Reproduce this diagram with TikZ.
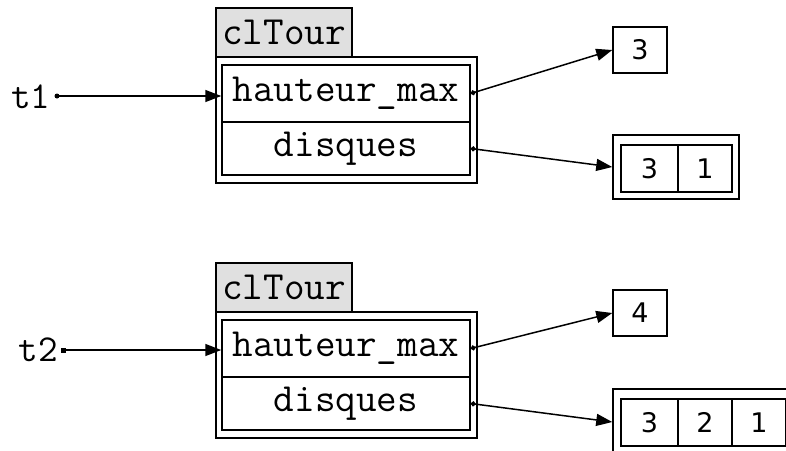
\documentclass[tikz,border=0pt]{standalone}
\usepackage{fontspec}
\newfontfamily\numf{DejaVu Sans}
\usetikzlibrary{arrows.meta}
\begin{document}
\begin{tikzpicture}[x=1pt,y=-1pt,line width=1.5pt,
  lbl/.style={draw,rectangle,inner sep=0pt,fill=black!12,minimum width=136pt,minimum height=49pt,font=\ttfamily\fontsize{40}{40}\selectfont},
  outer/.style={draw,rectangle,inner sep=0pt},
  field/.style={draw,rectangle,inner sep=0pt,minimum width=248pt,font=\ttfamily\fontsize{40}{40}\selectfont},
  var/.style={inner sep=0pt,font=\ttfamily\fontsize{38}{38}\selectfont},
  num/.style={draw,rectangle,inner sep=0pt,minimum width=54pt,minimum height=46pt,font=\numf\fontsize{27}{27}\selectfont},
  cell/.style={draw,rectangle,inner sep=0pt,minimum height=47pt,font=\numf\fontsize{27}{27}\selectfont},
  tip/.style={-{Triangle[length=16pt,width=12pt]}},
  ptr/.style={{Circle[length=5pt]}-{Triangle[length=16pt,width=12pt]},line width=1.5pt},
  dotc/.style={circle,fill,inner sep=0pt,minimum size=5pt}]
\useasboundingbox (0,0) rectangle (786,450);
\clip (0,0) rectangle (786,450);
\fill[white] (0,0) rectangle (786,450);
% ---------- top ----------
\node[lbl] (lab1) at (284,32.5) {clTour};
\node[outer,minimum width=261pt,minimum height=126pt] (out1) at (346.5,120) {};
\node[field,minimum height=57pt] (hm1) at (346,93.5) {hauteur\_max};
\node[field,minimum height=53pt] (dq1) at (346,148.5) {disques};
\node[var] (t1) at (31,97) {t1};
\node[dotc] (d1) at (57,96) {};
\draw[tip] (d1.center) -- (hm1.west |- d1.center);
\node[num] (n3) at (640,50) {3};
\node[outer,minimum width=126pt,minimum height=64pt] (l1) at (676,167) {};
\node[cell,minimum width=57pt] (l1a) at (649.5,168.5) {3};
\node[cell,minimum width=54pt] (l1b) at (705,168.5) {1};
\draw[ptr] (hm1.east) -- (n3.west);
\draw[ptr] (dq1.east) -- (l1.west);
% ---------- bottom ----------
\node[lbl] (lab2) at (284,287.5) {clTour};
\node[outer,minimum width=261pt,minimum height=126pt] (out2) at (346.5,375) {};
\node[field,minimum height=57pt] (hm2) at (346,348.5) {hauteur\_max};
\node[field,minimum height=53pt] (dq2) at (346,403.5) {disques};
\node[var] (t2) at (38,350) {t2};
\node[dotc,rectangle,minimum size=5pt] (d2) at (63,350) {};
\draw[tip] (d2.center) -- (hm2.west |- d2.center);
\node[num] (n4) at (640,313) {4};
\node[outer,minimum width=180pt,minimum height=66pt] (l2) at (703,422) {};
\node[cell,minimum width=57pt] (l2a) at (649.5,422.5) {3};
\node[cell,minimum width=54pt] (l2b) at (705,422.5) {2};
\node[cell,minimum width=54pt] (l2c) at (759,422.5) {1};
\draw[ptr] (hm2.east) -- (n4.west);
\draw[ptr] (dq2.east) -- (l2.west);
\end{tikzpicture}
\end{document}
